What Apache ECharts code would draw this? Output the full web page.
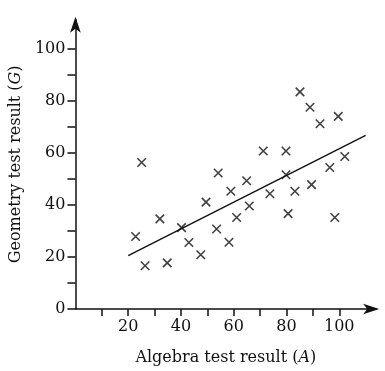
<!DOCTYPE html>
<html>
<head>
<meta charset="utf-8">
<script src="https://cdn.jsdelivr.net/npm/echarts@6/dist/echarts.min.js"></script>
<style>
  html, body { margin: 0; padding: 0; background: #fff; }
  #chart { width: 385px; height: 371px; }
</style>
</head>
<body>
<div id="chart"></div>
<script>
// scores
const algebra = [22.8, 25.1, 26.4, 32.0, 34.8, 40.2, 43.0, 47.5, 49.5, 53.5,
  54.1, 58.2, 58.9, 61.1, 64.9, 65.9, 71.2, 73.7, 79.8, 79.8,
  80.6, 83.2, 85.1, 88.9, 89.5, 92.7, 96.4, 98.3, 99.6, 102.1]
const geometry = [27.8, 56.2, 16.6, 34.6, 17.7, 31.2, 25.5, 20.8, 41.0, 30.7,
  52.2, 25.6, 45.2, 35.1, 49.2, 39.5, 60.6, 44.2, 60.6, 51.5,
  36.6, 45.2, 83.3, 77.4, 47.7, 71.1, 54.3, 35.1, 73.9, 58.5]
// line of best fit end points
const fitA = [20, 110]
const fitG = [20.5, 66.6]
const xTicks = [10, 20, 30, 40, 50, 60, 70, 80, 90, 100]
const xLabels = [20, 40, 60, 80, 100]
const yTicks = [0, 10, 20, 30, 40, 50, 60, 70, 80, 90, 100]
const yLabels = [0, 20, 40, 60, 80, 100]

const ink = '#111'
const font = 'DejaVu Serif'

const chart = echarts.init(document.getElementById('chart'))
chart.setOption({
  animation: false,
  grid: {
    left: 75.4,
    right: 8.8,
    top: 19.7,
    bottom: 58.3
  },
  xAxis: {
    type: 'value',
    min: 0,
    max: 114,
    name: '{n|Algebra test result (}{i|A}{n|)}',
    nameLocation: 'middle',
    nameGap: 41,
    nameTextStyle: {
      rich: {
        n: { fontFamily: font, fontSize: 16, color: ink },
        i: { fontFamily: font, fontSize: 16, color: ink, fontStyle: 'italic' }
      }
    },
    splitLine: { show: false },
    axisLine: {
      onZero: false,
      symbol: ['none', 'arrow'],
      symbolSize: [8, 16],
      symbolOffset: [0, 3],
      lineStyle: { color: ink, width: 1.5 }
    },
    axisTick: {
      customValues: xTicks,
      length: 7,
      lineStyle: { color: ink, width: 1.5 }
    },
    axisLabel: {
      customValues: xLabels,
      margin: 10,
      fontFamily: font,
      fontSize: 16,
      color: ink
    }
  },
  yAxis: {
    type: 'value',
    min: 0,
    max: 111,
    name: '{n|Geometry test result (}{i|G}{n|)}',
    nameLocation: 'middle',
    nameGap: 50,
    nameTextStyle: {
      rich: {
        n: { fontFamily: font, fontSize: 16, color: ink },
        i: { fontFamily: font, fontSize: 16, color: ink, fontStyle: 'italic' }
      }
    },
    splitLine: { show: false },
    axisLine: {
      show: true,
      onZero: false,
      symbol: ['none', 'arrow'],
      symbolSize: [8, 16],
      symbolOffset: [0, 3],
      lineStyle: { color: ink, width: 1.5 }
    },
    axisTick: {
      show: true,
      customValues: yTicks,
      length: 8,
      lineStyle: { color: ink, width: 1.5 }
    },
    axisLabel: {
      customValues: yLabels,
      margin: 10,
      fontFamily: font,
      fontSize: 16,
      color: ink
    }
  },
  series: [
    {
      type: 'line',
      data: fitA.map((a, i) => [a, fitG[i]]),
      showSymbol: false,
      lineStyle: { color: ink, width: 1.4 },
      z: 1
    },
    {
      type: 'scatter',
      data: algebra.map((a, i) => [a, geometry[i]]),
      symbol: 'path://M0,0L10,10M10,0L0,10',
      symbolSize: 8.5,
      itemStyle: { color: 'none', borderColor: ink, borderWidth: 1.6 },
      z: 2
    }
  ]
})
</script>
</body>
</html>
